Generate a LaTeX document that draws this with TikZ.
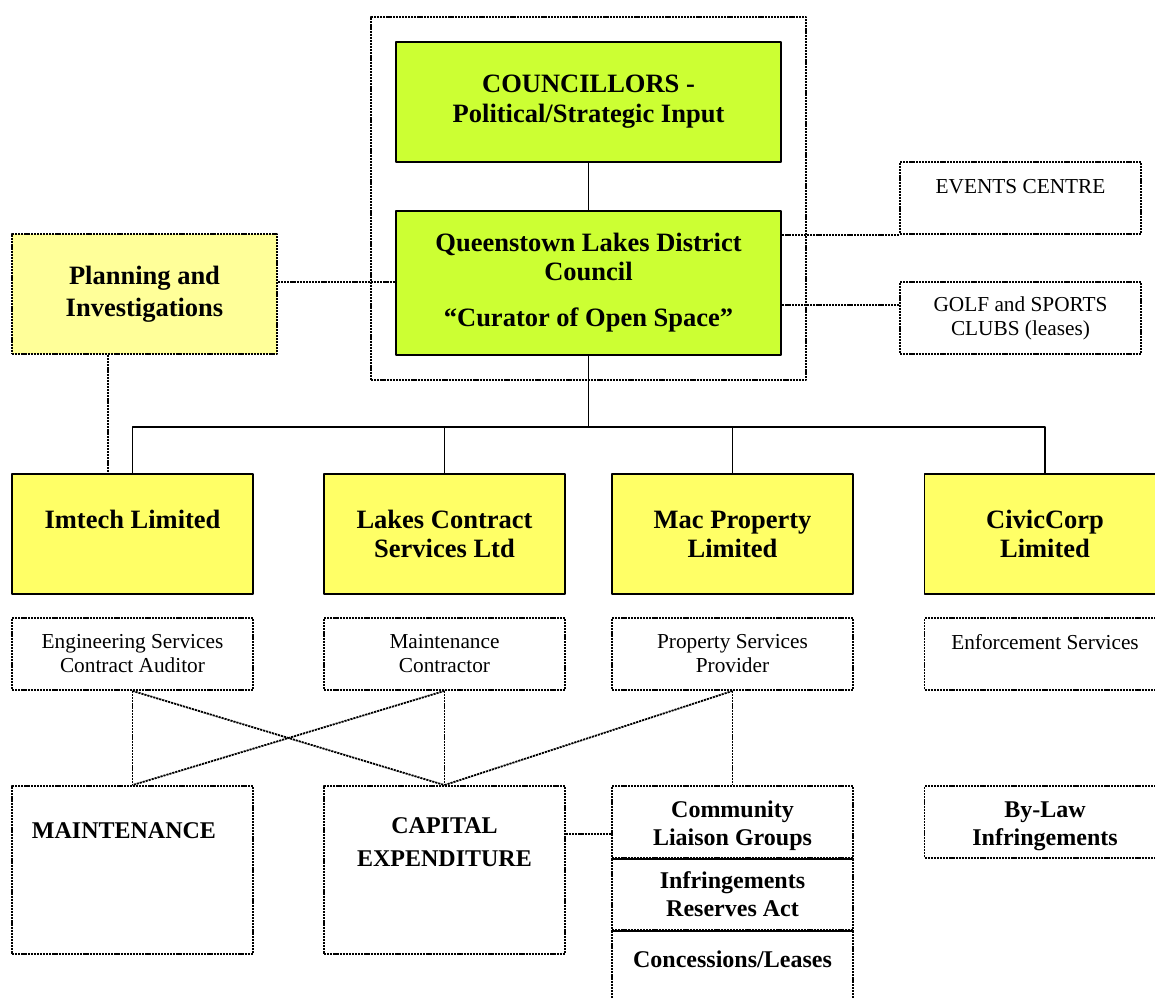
\documentclass[tikz,border=0pt]{standalone}
\usepackage{fontspec}
\setmainfont{Liberation Serif}
\usetikzlibrary{fit}

\definecolor{qlgreen}{HTML}{CCFF33}
\definecolor{coyellow}{HTML}{FFFF66}
\definecolor{planyellow}{HTML}{FFFF99}

\newcommand\hdfont{\fontsize{26.5}{29}\selectfont\bfseries}
\newcommand\subfont{\fontsize{21.3}{24}\selectfont}
\newcommand\btmfont{\fontsize{24}{28}\selectfont\bfseries}

\begin{document}
\begin{tikzpicture}[x=1pt, y=-1pt, line join=round,
    edge/.style={line width=1.9pt},
    dotline/.style={line width=1.8pt, dash pattern=on 2.2pt off 0.9pt},
    greenbox/.style={draw, edge, fill=qlgreen, minimum width=385pt, inner sep=0pt, align=center, font=\hdfont},
    cobox/.style={draw, edge, fill=coyellow, minimum width=241pt, minimum height=120pt, inner sep=0pt, align=center, font=\hdfont},
    subbox/.style={draw, dotline, minimum width=241pt, minimum height=72pt, inner sep=0pt, align=center, font=\subfont},
    workbox/.style={draw, dotline, minimum width=241pt, minimum height=168pt, inner sep=0pt, align=center, font=\btmfont},
    cellbox/.style={draw, dotline, minimum width=241pt, minimum height=72pt, inner sep=0pt, align=center, font=\btmfont}]
    \useasboundingbox (0,0) rectangle (1155,997);
    \clip (0,0) rectangle (1155,997);
    % Council at the top
    \node[greenbox, minimum height=120pt] (coun) at (588.5,102) {COUNCILLORS -\\[1pt]Political/Strategic Input};
    \node[greenbox, minimum height=144pt] (qldc) at (588.5,283) {Queenstown Lakes District\\Council\\[17pt]“Curator of Open Space”};
    \node[draw, dotline, fit=(coun)(qldc), inner sep=24pt] (frame) {};
    \draw[edge] (coun) -- (qldc);
    % Side boxes
    \node[draw, dotline, fill=planyellow, minimum width=265pt, minimum height=120pt, inner sep=0pt, align=center, font=\hdfont] (plan) at (144.5,294) {Planning and\\[3pt]Investigations};
    \node[subbox] (events) at (1020.5,198) {EVENTS CENTRE\\~};
    \node[subbox] (golf) at (1020.5,318) {GOLF and SPORTS\\CLUBS (leases)};
    \draw[dotline] ([yshift=12pt]plan.east) -- ([yshift=12pt]plan.east -| qldc.west);
    \draw[dotline] (events.south west) -- (events.south west -| qldc.east);
    \draw[dotline] ([yshift=13pt]golf.west) -- ([yshift=13pt]golf.west -| qldc.east);
    % Companies
    \node[cobox] (imtech) at (132.5,534) {Imtech Limited\\~};
    \node[cobox] (lakes) at (444.5,534) {Lakes Contract\\Services Ltd};
    \node[cobox] (mac) at (732.5,534) {Mac Property\\Limited};
    \node[cobox] (civic) at (1045,534) {CivicCorp\\Limited};
    \coordinate (bus) at (588.5,427);
    \draw[edge] (qldc.south) -- (bus);
    \draw[edge] (imtech.north) |- (bus) -| (civic.north);
    \draw[edge] (lakes.north) -- (lakes.north |- bus);
    \draw[edge] (mac.north) -- (mac.north |- bus);
    \draw[dotline] ([xshift=-36.5pt]plan.south) -- ([xshift=-36.5pt]plan.south |- imtech.north);
    % Roles
    \node[subbox] (eng) at (132.5,654) {Engineering Services\\Contract Auditor};
    \node[subbox] (mcon) at (444.5,654) {Maintenance\\Contractor};
    \node[subbox] (prop) at (732.5,654) {Property Services\\Provider};
    \node[subbox] (enf) at (1045,654) {Enforcement Services\\~};
    % Work areas
    \node[workbox] (maint) at (132.5,870) {MAINTENANCE\hspace*{17pt}\\~\\[22pt]~};
    \node[workbox] (capex) at (444.5,870) {CAPITAL\\[5pt]EXPENDITURE\\~\\~};
    \node[cellbox] (comm) at (732.5,822) {~\\[-3pt]Community\\Liaison Groups};
    \node[cellbox] (infr) at (732.5,894) {Infringements\\Reserves Act};
    \node[cellbox] (conc) at (732.5,966) {\raisebox{7pt}[\height][\depth]{Concessions/Leases}};
    \node[cellbox] (bylaw) at (1045,822) {~\\[-3pt]By-Law\\Infringements};
    \draw[line width=2.6pt] (comm.south west) -- (comm.south east);
    \draw[line width=2.6pt] (infr.south west) -- (infr.south east);
    % Links between roles and work
    \draw[dotline] (eng.south) -- (maint.north);
    \draw[dotline] (eng.south) -- (capex.north);
    \draw[dotline] (mcon.south) -- (maint.north);
    \draw[dotline] (mcon.south) -- (capex.north);
    \draw[dotline] (prop.south) -- (capex.north);
    \draw[dotline] (prop.south) -- (comm.north);
    \draw[dotline] ([yshift=36pt]capex.east) -- ([yshift=36pt]capex.east -| comm.west);
\end{tikzpicture}
\end{document}
